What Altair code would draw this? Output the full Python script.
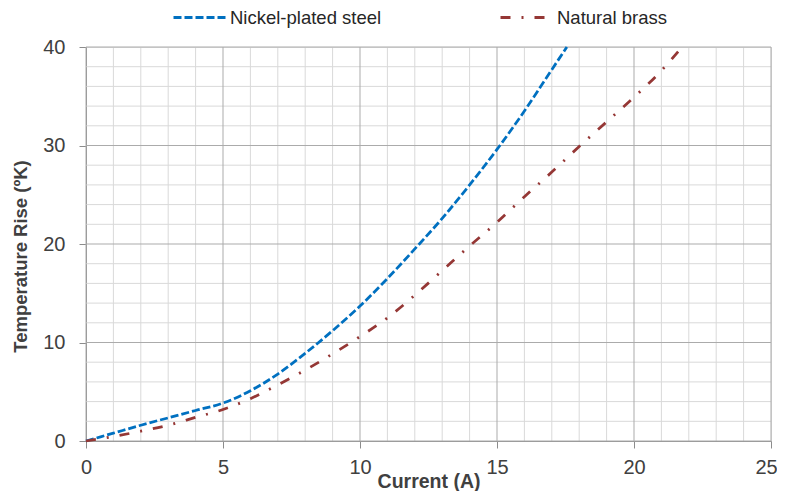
import altair as alt
import pandas as pd

# ---- data ----
series_names = ["Nickel-plated steel", "Natural brass"]

current_nickel = [0, 1, 2, 3, 4, 5, 6, 7, 8, 9, 10, 11, 12, 13, 14, 15, 16, 17, 17.55]
rise_nickel = [0, 0.8, 1.6, 2.35, 3.1, 3.85, 5.1, 6.8, 8.9, 11.2, 13.7, 16.5, 19.5, 22.6, 26.0, 29.6, 33.5, 37.7, 40]

current_brass = [0, 1, 2, 3, 4, 5, 6, 7, 8, 9, 10, 11, 12, 13, 14, 15, 16, 17, 18, 19, 20, 21, 21.75]
rise_brass = [0, 0.45, 1.0, 1.6, 2.4, 3.2, 4.3, 5.7, 7.2, 8.85, 10.6, 12.5, 14.8, 17.3, 19.8, 22.2, 24.8, 27.3, 29.9, 32.4, 34.9, 37.6, 40]

x_tick_values = [0, 5, 10, 15, 20, 25]
y_tick_values = [0, 10, 20, 30, 40]
x_grid_values = list(range(0, 26))
y_grid_values = list(range(0, 41, 2))

# ---- tables ----
df = pd.DataFrame({
    "series": [series_names[0]] * len(current_nickel) + [series_names[1]] * len(current_brass),
    "current": current_nickel + current_brass,
    "rise": rise_nickel + rise_brass,
})
xgrid = pd.DataFrame({"v": x_grid_values, "major": [v in x_tick_values for v in x_grid_values]})
ygrid = pd.DataFrame({"v": y_grid_values, "major": [v in y_tick_values for v in y_grid_values]})

FONT = "Liberation Sans"
x_scale = alt.Scale(domain=[0, 25], nice=False)
y_scale = alt.Scale(domain=[0, 40], nice=False)

x_axis = alt.Axis(
    values=x_tick_values, grid=False, tickSize=7, tickColor="#8C8C8C", domainColor="#8C8C8C",
    labelFontSize=20, labelFont=FONT, labelColor="#404040", labelPadding=9, labelFlush=False,
    labelOffset={"condition": {"test": "datum.value == 25", "value": -5}, "value": 0},
    title="Current (A)", titleFont=FONT, titleFontSize=19.5, titleFontWeight="bold",
    titleColor="#404040", titleY=46, titleBaseline="alphabetic",
)
y_axis = alt.Axis(
    values=y_tick_values, grid=False, tickSize=7, tickColor="#8C8C8C", domainColor="#8C8C8C",
    labelFontSize=20, labelFont=FONT, labelColor="#404040", labelPadding=14, labelFlush=False,
    title="Temperature Rise (ºK)", titleFont=FONT, titleFontSize=18.5, titleFontWeight="bold",
    titleColor="#404040", titleX=-65.5, titleY=209, titleAngle=270, titleBaseline="middle",
    titleAlign="center",
)

X = alt.X("v:Q", scale=x_scale, axis=x_axis)
Y = alt.Y("v:Q", scale=y_scale, axis=y_axis)

minor_x = alt.Chart(xgrid).transform_filter("!datum.major").mark_rule(
    color="#D9D9D9", strokeWidth=1).encode(x=X)
minor_y = alt.Chart(ygrid).transform_filter("!datum.major").mark_rule(
    color="#D9D9D9", strokeWidth=1).encode(y=Y)
major_x = alt.Chart(xgrid).transform_filter("datum.major").mark_rule(
    color="#ABABAB", strokeWidth=1).encode(x=X)
major_y = alt.Chart(ygrid).transform_filter("datum.major").mark_rule(
    color="#ABABAB", strokeWidth=1).encode(y=Y)

legend = alt.Legend(
    title=None, orient="none", legendX=86, legendY=-58, direction="horizontal",
    symbolType="stroke", symbolSize=2916, symbolStrokeWidth=3,
    labelFontSize=18.5, labelFont=FONT, labelColor="#262626", labelOffset=1,
    columnPadding=112,
)

lines = alt.Chart(df).mark_line(strokeWidth=2.75, interpolate="monotone").encode(
    x=alt.X("current:Q", scale=x_scale, axis=x_axis),
    y=alt.Y("rise:Q", scale=y_scale, axis=y_axis),
    color=alt.Color("series:N", scale=alt.Scale(domain=series_names, range=["#0070C0", "#953735"]),
                    legend=legend),
    strokeDash=alt.StrokeDash("series:N", scale=alt.Scale(domain=series_names,
                                                          range=[[8, 3], [10, 11, 2, 11]]),
                              legend=legend),
)

chart = alt.layer(minor_x, minor_y, major_x, major_y, lines).properties(
    width=685, height=394,
    autosize=alt.AutoSizeParams(type="none"),
    padding={"left": 78, "top": 39, "right": 6, "bottom": 50},
).configure_view(stroke=None).configure(background="white")

chart.save("out.html", embed_options={"renderer": "svg", "actions": False})
